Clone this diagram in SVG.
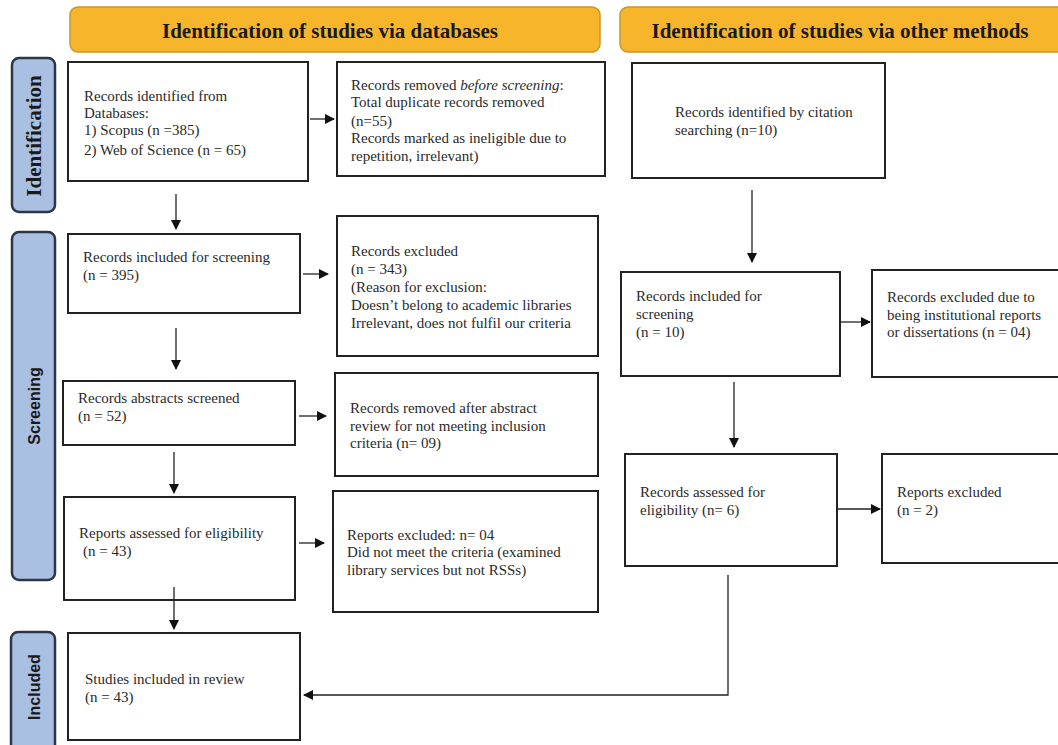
<svg xmlns="http://www.w3.org/2000/svg" width="1058" height="745" viewBox="0 0 1058 745">
<defs>
<style>
.hdr{fill:#F7B52C;stroke:#C9962A;stroke-width:1.5}
.hdrt{font-family:"Liberation Serif",serif;font-weight:bold;font-size:21px;fill:#1a1a1a;text-anchor:middle}
.side{fill:#A9C0E2;stroke:#2C3644;stroke-width:2.5}
.sidet{font-family:"Liberation Sans",sans-serif;font-weight:bold;font-size:16px;fill:#1a1a1a;text-anchor:middle}
.sidets{font-family:"Liberation Serif",serif;font-weight:bold;font-size:21px;fill:#1a1a1a;text-anchor:middle}
.box{fill:#fff;stroke:#222;stroke-width:2}
.t{font-family:"Liberation Serif",serif;font-size:15px;fill:#2a2a2a}
.c{stroke:#222;stroke-width:1.3;fill:none}
</style>
<marker id="ah" viewBox="0 0 10 10" refX="9" refY="5" markerWidth="10" markerHeight="10" markerUnits="userSpaceOnUse" orient="auto">
<path d="M0,0 L10,5 L0,10 z" fill="#111"/>
</marker>
</defs>
<rect width="1058" height="745" fill="#fff"/>

<g id="hdr1"><rect class="hdr" x="70" y="7" width="530" height="45" rx="8"/><text class="hdrt" x="330" y="38">Identification of studies via databases</text></g>
<g id="hdr2"><rect class="hdr" x="620" y="7" width="446" height="45" rx="8"/><text class="hdrt" x="840" y="38">Identification of studies via other methods</text></g>

<g id="lbl-identification"><rect class="side" x="12" y="58" width="43" height="154" rx="7"/><text class="sidets" transform="translate(41,136) rotate(-90)">Identification</text></g>
<g id="lbl-screening"><rect class="side" x="12" y="232" width="43" height="348" rx="7"/><text class="sidet" transform="translate(40,406) rotate(-90)">Screening</text></g>
<g id="lbl-included"><rect class="side" x="11" y="632" width="44" height="125" rx="7"/><text class="sidet" transform="translate(40,687) rotate(-90)">Included</text></g>

<g id="a1"><rect class="box" x="68" y="62" width="240" height="119"/>
<text class="t" x="84" y="101">Records identified from</text>
<text class="t" x="84" y="118">Databases:</text>
<text class="t" x="84" y="135">1) Scopus (n =385)</text>
<text class="t" x="84" y="155">2) Web of Science (n = 65)</text></g>

<g id="a2"><rect class="box" x="337" y="62" width="268" height="114"/>
<text class="t" x="351" y="90">Records removed <tspan font-style="italic">before screening</tspan>:</text>
<text class="t" x="351" y="107">Total duplicate records removed</text>
<text class="t" x="351" y="126">(n=55)</text>
<text class="t" x="351" y="143">Records marked as ineligible due to</text>
<text class="t" x="351" y="161">repetition, irrelevant)</text></g>

<g id="a3"><rect class="box" x="68" y="234" width="232" height="79"/>
<text class="t" x="83" y="262">Records included for screening</text>
<text class="t" x="83" y="280">(n = 395)</text></g>

<g id="a4"><rect class="box" x="337" y="216" width="261" height="140"/>
<text class="t" x="351" y="256">Records excluded</text>
<text class="t" x="351" y="274">(n = 343)</text>
<text class="t" x="351" y="292">(Reason for exclusion:</text>
<text class="t" x="351" y="310">Doesn’t belong to academic libraries</text>
<text class="t" x="351" y="328">Irrelevant, does not fulfil our criteria</text></g>

<g id="a5"><rect class="box" x="63" y="381" width="232" height="64"/>
<text class="t" x="78" y="403">Records abstracts screened</text>
<text class="t" x="78" y="421">(n = 52)</text></g>

<g id="a6"><rect class="box" x="335" y="373" width="263" height="103"/>
<text class="t" x="350" y="413">Records removed after abstract</text>
<text class="t" x="350" y="431">review for not meeting inclusion</text>
<text class="t" x="350" y="448">criteria (n= 09)</text></g>

<g id="a7"><rect class="box" x="64" y="497" width="231" height="103"/>
<text class="t" x="79" y="538">Reports assessed for eligibility</text>
<text class="t" x="83" y="556">(n = 43)</text></g>

<g id="a8"><rect class="box" x="333" y="491" width="265" height="121"/>
<text class="t" x="347" y="540">Reports excluded: n= 04</text>
<text class="t" x="347" y="557"> Did not meet the criteria (examined</text>
<text class="t" x="347" y="575">library services but not RSSs)</text></g>

<g id="a9"><rect class="box" x="68" y="633" width="232" height="107"/>
<text class="t" x="85" y="684">Studies included in review</text>
<text class="t" x="85" y="702">(n = 43)</text></g>

<g id="b1"><rect class="box" x="632" y="63" width="253" height="115"/>
<text class="t" x="675" y="117">Records identified by citation</text>
<text class="t" x="675" y="135">searching (n=10)</text></g>

<g id="b2"><rect class="box" x="621" y="272" width="219" height="104"/>
<text class="t" x="636" y="301">Records included for</text>
<text class="t" x="636" y="319">screening</text>
<text class="t" x="636" y="337">(n = 10)</text></g>

<g id="b3"><rect class="box" x="872" y="270" width="192" height="107"/>
<text class="t" x="887" y="302">Records excluded due to</text>
<text class="t" x="887" y="320">being institutional reports</text>
<text class="t" x="887" y="337">or dissertations (n = 04)</text></g>

<g id="b4"><rect class="box" x="625" y="454" width="212" height="112"/>
<text class="t" x="640" y="497">Records assessed for</text>
<text class="t" x="640" y="515">eligibility (n= 6)</text></g>

<g id="b5"><rect class="box" x="882" y="454" width="182" height="109"/>
<text class="t" x="897" y="497">Reports excluded</text>
<text class="t" x="897" y="515">(n = 2)</text></g>

<g id="connectors">
<line class="c" x1="310" y1="119" x2="334" y2="119" marker-end="url(#ah)"/>
<line class="c" x1="176" y1="194" x2="176" y2="229" marker-end="url(#ah)"/>
<line class="c" x1="303" y1="274" x2="328" y2="274" marker-end="url(#ah)"/>
<line class="c" x1="176" y1="328" x2="176" y2="369" marker-end="url(#ah)"/>
<line class="c" x1="299" y1="416" x2="326" y2="416" marker-end="url(#ah)"/>
<line class="c" x1="174" y1="452" x2="174" y2="493" marker-end="url(#ah)"/>
<line class="c" x1="299" y1="543" x2="324" y2="543" marker-end="url(#ah)"/>
<line class="c" x1="174" y1="587" x2="174" y2="629" marker-end="url(#ah)"/>
<line class="c" x1="752" y1="190" x2="752" y2="262" marker-end="url(#ah)"/>
<line class="c" x1="840" y1="322" x2="870" y2="322" marker-end="url(#ah)"/>
<line class="c" x1="734" y1="382" x2="734" y2="447" marker-end="url(#ah)"/>
<line class="c" x1="837" y1="509" x2="880" y2="509" marker-end="url(#ah)"/>
<path class="c" d="M728,575 L728,695 L304,695" marker-end="url(#ah)"/>
</g>
</svg>
